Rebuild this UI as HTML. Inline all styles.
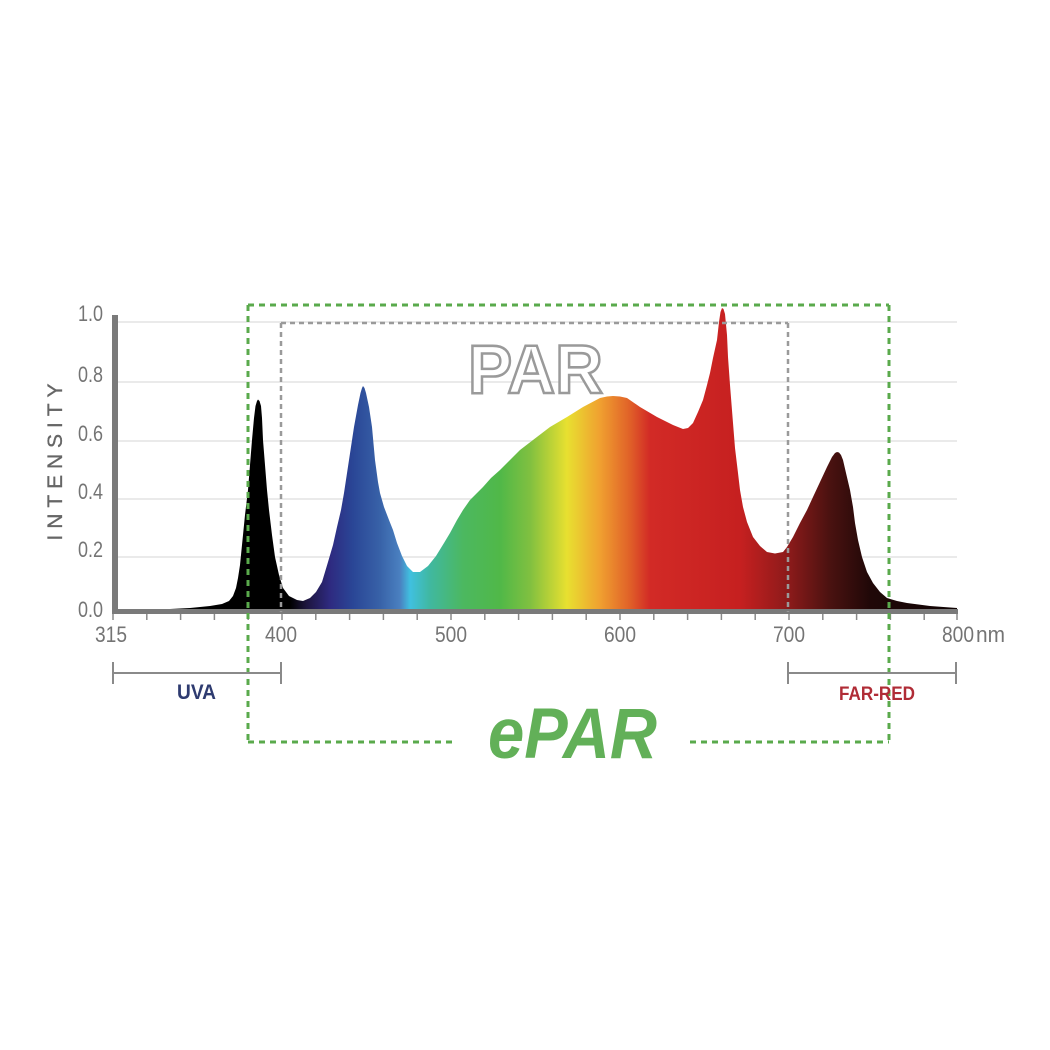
<!DOCTYPE html>
<html>
<head>
<meta charset="utf-8">
<style>
  html, body { margin:0; padding:0; background:#ffffff; }
  svg { display:block; }
  text { font-family: "Liberation Sans", "DejaVu Sans", sans-serif; }
</style>
</head>
<body>
<svg width="1050" height="1050" viewBox="0 0 1050 1050" xmlns="http://www.w3.org/2000/svg">
  <defs>
    <linearGradient id="spec" gradientUnits="userSpaceOnUse" x1="113" y1="0" x2="957" y2="0">
      <stop offset="0" stop-color="#000000"/>
      <stop offset="0.2097" stop-color="#000000"/>
      <stop offset="0.2299" stop-color="#1e1640"/>
      <stop offset="0.2571" stop-color="#2e2a80"/>
      <stop offset="0.2844" stop-color="#2a4696"/>
      <stop offset="0.3164" stop-color="#3862a8"/>
      <stop offset="0.3400" stop-color="#4a80c0"/>
      <stop offset="0.3519" stop-color="#40c0e0"/>
      <stop offset="0.3756" stop-color="#40b8a0"/>
      <stop offset="0.4147" stop-color="#4cb860"/>
      <stop offset="0.4585" stop-color="#50b848"/>
      <stop offset="0.4941" stop-color="#80c040"/>
      <stop offset="0.5379" stop-color="#e8e030"/>
      <stop offset="0.5770" stop-color="#f0a030"/>
      <stop offset="0.6126" stop-color="#e06028"/>
      <stop offset="0.6363" stop-color="#d22a26"/>
      <stop offset="0.7429" stop-color="#c62020"/>
      <stop offset="0.8021" stop-color="#8a1a1a"/>
      <stop offset="0.8495" stop-color="#4a1210"/>
      <stop offset="0.8969" stop-color="#200808"/>
      <stop offset="1" stop-color="#100404"/>
    </linearGradient>
  </defs>

  <rect x="0" y="0" width="1050" height="1050" fill="#ffffff"/>

  <!-- grid lines -->
  <g stroke="#e4e4e4" stroke-width="1.5">
    <line x1="118" y1="322" x2="957" y2="322"/>
    <line x1="118" y1="382" x2="957" y2="382"/>
    <line x1="118" y1="441" x2="957" y2="441"/>
    <line x1="118" y1="499" x2="957" y2="499"/>
    <line x1="118" y1="557" x2="957" y2="557"/>
  </g>

  <!-- spectrum -->
  <polygon fill="url(#spec)" points="113,611 150,610 190,608 210,606 222,604 229,601 233,596 236,588 238,578 240,565 242,545 245,515 248,490 250,465 252,440 254,418 255.5,406 257,401 258,399.5 259.5,401 261,406 262,418 263,440 265,465 267,490 269,510 272,535 275,557 279,575 283,588 289,596 297,600 303,601 310,598 316,592 322,582 328,562 333,545 337,527 341,510 344,493 349,460 354,427 358,405 360.5,393 362,388 363,386 364.5,388 366,393 369,407 372,427 375,460 378,482 380,493 384,507 389,520 393,530 397,543 402,556 407,566 413,572 420,572 428,566 436,556 444,543 450,533 457,520 463,510 470,500 477,493 483,487 491,478 500,470 510,460 520,450 533,440 550,427 567,417 583,407 600,398 607,396.5 613,396 620,396.5 627,398 640,407 657,417 673,425 683,429 688,428 693,423 698,412 703,400 707,385 710,373 713,358 717,340 719,322 720.5,312 722,308 723.5,309 725,314 727,335 728,357 730,385 733,423 735,448 738,473 740,490 743,507 747,522 753,537 760,546 767,552 775,553.5 783,552 787,547 793,537 800,523 807,510 813,497 820,482 827,467 832,457 835,453 837,452 839,452.5 841,455 843,460 846,473 850,490 853,507 855,523 858,540 862,557 867,572 873,583 880,592 887,598 897,601 907,603 930,606 957,608 957,612 113,612"/>

  <!-- axes -->
  <rect x="112" y="315" width="6" height="299" fill="#7a7a7a"/>
  <rect x="112" y="609" width="846" height="5" fill="#7a7a7a"/>

  <!-- x ticks -->
  <g stroke="#8a8a8a" stroke-width="1.5">
    <line x1="113" y1="614" x2="113" y2="620"/>
    <line x1="146.8" y1="614" x2="146.8" y2="620"/>
    <line x1="180.6" y1="614" x2="180.6" y2="620"/>
    <line x1="214.4" y1="614" x2="214.4" y2="620"/>
    <line x1="248.2" y1="614" x2="248.2" y2="620"/>
    <line x1="282" y1="614" x2="282" y2="620"/>
    <line x1="315.8" y1="614" x2="315.8" y2="620"/>
    <line x1="349.6" y1="614" x2="349.6" y2="620"/>
    <line x1="383.4" y1="614" x2="383.4" y2="620"/>
    <line x1="417.2" y1="614" x2="417.2" y2="620"/>
    <line x1="451" y1="614" x2="451" y2="620"/>
    <line x1="484.8" y1="614" x2="484.8" y2="620"/>
    <line x1="518.6" y1="614" x2="518.6" y2="620"/>
    <line x1="552.4" y1="614" x2="552.4" y2="620"/>
    <line x1="586.2" y1="614" x2="586.2" y2="620"/>
    <line x1="620" y1="614" x2="620" y2="620"/>
    <line x1="653.8" y1="614" x2="653.8" y2="620"/>
    <line x1="687.6" y1="614" x2="687.6" y2="620"/>
    <line x1="721.4" y1="614" x2="721.4" y2="620"/>
    <line x1="755.2" y1="614" x2="755.2" y2="620"/>
    <line x1="789" y1="614" x2="789" y2="620"/>
    <line x1="822.8" y1="614" x2="822.8" y2="620"/>
    <line x1="856.6" y1="614" x2="856.6" y2="620"/>
    <line x1="890.4" y1="614" x2="890.4" y2="620"/>
    <line x1="924.2" y1="614" x2="924.2" y2="620"/>
    <line x1="957" y1="614" x2="957" y2="620"/>
  </g>

  <!-- PAR dashed box -->
  <g fill="none" stroke="#9a9a9a" stroke-width="2.5" stroke-dasharray="5 4">
    <line x1="281" y1="323" x2="788" y2="323"/>
    <line x1="281" y1="323" x2="281" y2="612"/>
    <line x1="788" y1="323" x2="788" y2="612"/>
  </g>

  <!-- ePAR dashed box -->
  <g fill="none" stroke="#5aaa4c" stroke-width="3" stroke-dasharray="6 5">
    <line x1="248" y1="305" x2="889" y2="305"/>
    <line x1="248" y1="305" x2="248" y2="742"/>
    <line x1="889" y1="305" x2="889" y2="742"/>
    <line x1="248" y1="742" x2="455" y2="742"/>
    <line x1="690" y1="742" x2="889" y2="742"/>
  </g>

  <!-- y labels -->
  <g fill="#747474" font-size="22" text-anchor="end">
    <text x="103" y="321" textLength="25" lengthAdjust="spacingAndGlyphs">1.0</text>
    <text x="103" y="382" textLength="25" lengthAdjust="spacingAndGlyphs">0.8</text>
    <text x="103" y="441" textLength="25" lengthAdjust="spacingAndGlyphs">0.6</text>
    <text x="103" y="499" textLength="25" lengthAdjust="spacingAndGlyphs">0.4</text>
    <text x="103" y="557" textLength="25" lengthAdjust="spacingAndGlyphs">0.2</text>
    <text x="103" y="617" textLength="25" lengthAdjust="spacingAndGlyphs">0.0</text>
  </g>

  <!-- INTENSITY -->
  <text x="0" y="0" transform="translate(62,462) rotate(-90)" text-anchor="middle" fill="#666666" stroke="#666666" stroke-width="0.3" font-size="21" textLength="157" lengthAdjust="spacing">INTENSITY</text>

  <!-- x labels -->
  <g fill="#747474" font-size="22">
    <text x="95" y="642" textLength="32" lengthAdjust="spacingAndGlyphs">315</text>
    <text x="265" y="642" textLength="32" lengthAdjust="spacingAndGlyphs">400</text>
    <text x="435" y="642" textLength="32" lengthAdjust="spacingAndGlyphs">500</text>
    <text x="604" y="642" textLength="32" lengthAdjust="spacingAndGlyphs">600</text>
    <text x="773" y="642" textLength="32" lengthAdjust="spacingAndGlyphs">700</text>
    <text x="942" y="642" textLength="32" lengthAdjust="spacingAndGlyphs">800</text>
    <text x="976" y="642" textLength="29" lengthAdjust="spacingAndGlyphs">nm</text>
  </g>

  <!-- brackets -->
  <g stroke="#8a8a8a" stroke-width="2" fill="none">
    <line x1="113" y1="673" x2="281" y2="673"/>
    <line x1="113" y1="662" x2="113" y2="684"/>
    <line x1="281" y1="662" x2="281" y2="684"/>
    <line x1="788" y1="673" x2="956" y2="673"/>
    <line x1="788" y1="662" x2="788" y2="684"/>
    <line x1="956" y1="662" x2="956" y2="684"/>
  </g>

  <text x="177" y="699" fill="#2e3b70" font-size="21" font-weight="bold" textLength="39" lengthAdjust="spacingAndGlyphs">UVA</text>
  <text x="839" y="700" fill="#b02c36" font-size="19" font-weight="bold" textLength="76" lengthAdjust="spacingAndGlyphs">FAR-RED</text>

  <!-- PAR outlined -->
  <text x="468" y="393" fill="#ffffff" stroke="#9a9a9a" stroke-width="2.6" font-size="69" font-weight="bold" textLength="135" lengthAdjust="spacingAndGlyphs">PAR</text>

  <!-- ePAR -->
  <text x="488" y="758" fill="#62b058" font-size="71" font-weight="bold" font-style="italic" textLength="169" lengthAdjust="spacingAndGlyphs">ePAR</text>
</svg>
</body>
</html>
